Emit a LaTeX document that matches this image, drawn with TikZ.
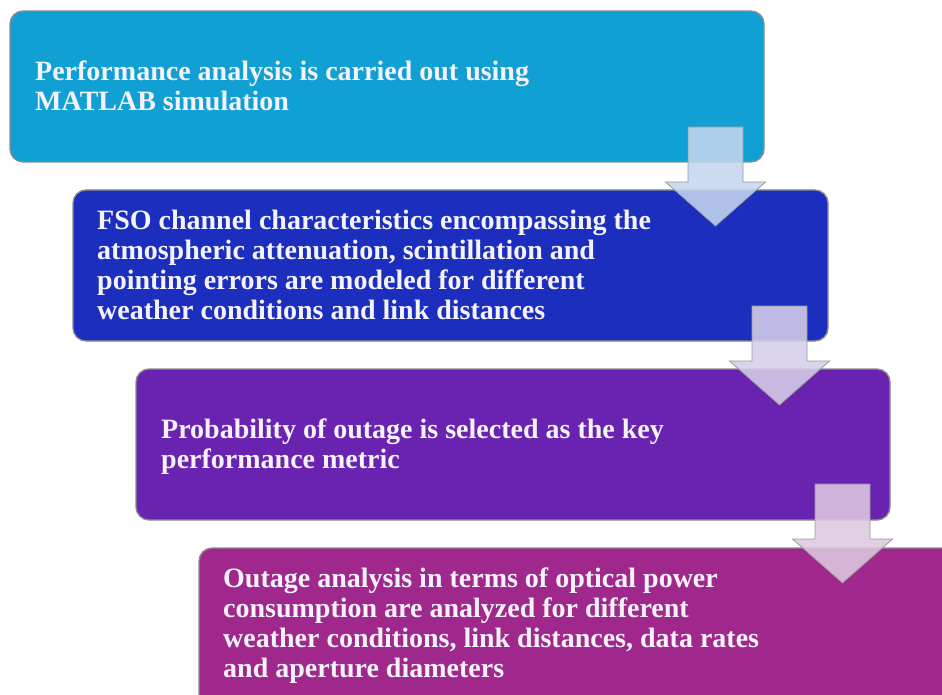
\documentclass[tikz,border=0pt]{standalone}
\usepackage{fontspec}
\setmainfont{Liberation Serif}
\usetikzlibrary{calc}
\definecolor{cA}{RGB}{17,160,212}
\definecolor{cB}{RGB}{27,46,190}
\definecolor{cC}{RGB}{106,34,176}
\definecolor{cD}{RGB}{160,40,140}
\definecolor{aA}{RGB}{196,214,238}
\definecolor{aB}{RGB}{214,206,234}
\definecolor{aC}{RGB}{222,200,224}
\definecolor{txt}{RGB}{244,242,250}
\tikzset{
  stagebox/.style={draw=black!45, line width=1.3pt, rounded corners=13pt},
  stagetext/.style={anchor=base west, inner sep=0pt, align=left, text=txt,
    font=\bfseries\fontsize{28}{30}\selectfont},
  blockarrow/.style={draw=black!40, line width=0.8pt, fill opacity=0.88, line join=miter}
}
\newcommand\flowarrow[2]{% #1 top-centre coordinate, #2 colour
  \draw[blockarrow, fill=#2]
    ($(#1)+(-27.5,0)$) -- ($(#1)+(27.5,0)$) -- ($(#1)+(27.5,-55)$) --
    ($(#1)+(50,-55)$) -- ($(#1)+(0,-99)$) -- ($(#1)+(-50,-55)$) --
    ($(#1)+(-27.5,-55)$) -- cycle;}
\begin{document}
\begin{tikzpicture}[x=1pt,y=1pt]
\useasboundingbox (0,0) rectangle (942,-695);
\clip (0,0) rectangle (942,-695);
% boxes
\draw[stagebox, fill=cA] (10,-11) rectangle (764,-162);
\coordinate (b1se) at (764,-162);
\draw[stagebox, fill=cB] (73,-190) rectangle (828,-341);
\coordinate (b2se) at (828,-341);
\draw[stagebox, fill=cC] (136,-369) rectangle (890,-520);
\coordinate (b3se) at (890,-520);
\draw[stagebox, fill=cD] (199,-548) rectangle (970,-720);
% texts (anchor = baseline of last line)
\node[stagetext] (t1) at (35,-111) {Performance analysis is carried out using\\MATLAB simulation};
\node[stagetext] (t2) at (97,-319) {FSO channel characteristics encompassing the\\atmospheric attenuation, scintillation and\\pointing errors are modeled for different\\weather conditions and link distances};
\node[stagetext] (t3) at (161,-468) {Probability of outage is selected as the key\\performance metric};
\node[stagetext] (t4) at (223,-677) {Outage analysis in terms of optical power\\consumption are analyzed for different\\weather conditions, link distances, data rates\\and aperture diameters};
% arrows
\coordinate (a1) at ($(b1se)+(-48.5,35)$);
\coordinate (a2) at ($(b2se)+(-48.5,35)$);
\coordinate (a3) at ($(b3se)+(-47.5,36)$);
\flowarrow{a1}{aA}
\flowarrow{a2}{aB}
\flowarrow{a3}{aC}
\end{tikzpicture}
\end{document}
